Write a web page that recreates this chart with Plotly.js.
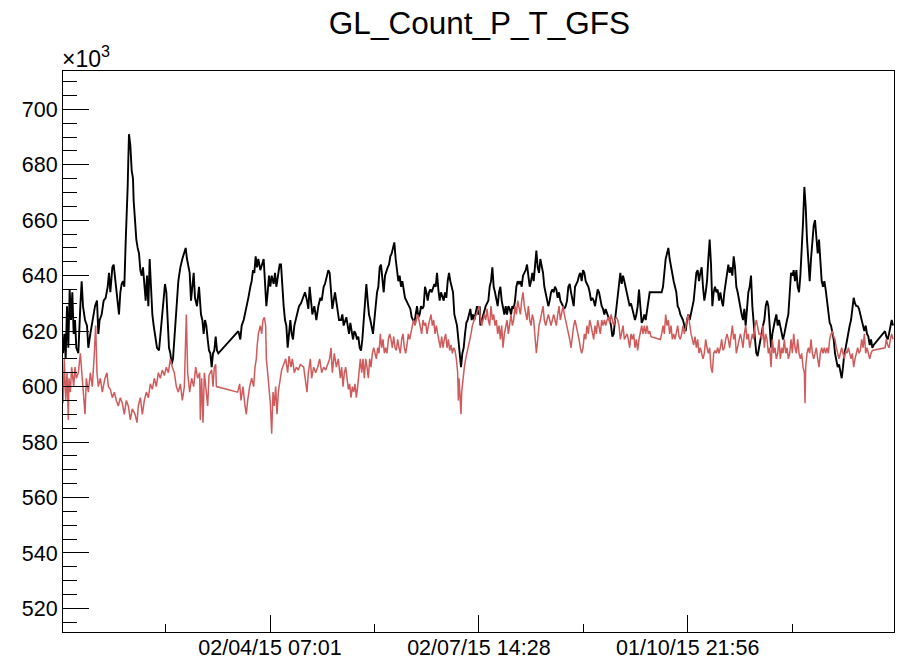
<!DOCTYPE html>
<html><head><meta charset="utf-8">
<script src="https://cdn.plot.ly/plotly-3.0.1.min.js"></script>
<style>html,body{margin:0;padding:0;background:#fff}</style>
</head><body><div id="chart" style="width:897px;height:659px"></div>
<script>
// Day offsets (days since 2015-01-01 19:00 UTC) and counts in units of 10^3
const blackDay = [
0.0,0.58,1.17,1.75,2.33,2.91,3.50,4.08,4.66,5.24,5.83,6.70,7.58,8.16,8.74,9.62,10.49,11.07,11.95,12.82,13.99,14.86,15.45,16.03,16.90,17.78,18.65,19.53,20.11,20.69,21.57,22.15,22.73,23.32,23.90,24.48,25.07,25.65,26.23,26.81,27.40,27.98,28.27,28.56,28.85,29.44,30.02,30.60,30.89,31.48,32.06,32.64,33.23,33.81,34.39,34.97,35.56,36.14,36.72,37.31,37.89,38.47,39.06,39.64,40.22,41.09,41.97,42.55,43.14,44.01,44.59,45.18,45.76,46.34,46.93,47.51,48.09,48.97,49.84,50.42,51.30,52.17,53.05,53.63,54.21,54.79,55.38,55.96,56.54,57.13,57.71,58.58,59.46,
60.33,60.92,61.50,62.08,62.66,63.25,63.83,64.41,65.00,65.58,66.16,66.75,67.33,67.91,76.65,77.53,78.11,78.99,79.57,80.44,81.03,81.90,82.48,83.07,83.65,84.23,84.82,85.40,86.27,87.73,88.31,88.90,89.48,90.06,90.64,91.23,92.10,92.69,93.27,94.14,94.73,95.31,95.89,96.47,97.06,97.64,98.22,98.81,99.39,99.97,100.55,101.14,101.72,102.30,103.18,104.05,104.93,105.80,106.68,107.26,107.84,108.42,109.01,109.88,110.76,111.63,112.50,113.09,113.96,114.54,115.42,116.00,116.58,117.17,117.75,118.33,118.92,119.79,120.67,
121.54,122.13,122.71,123.29,123.87,124.46,125.04,125.62,126.21,126.79,127.37,127.96,128.54,129.12,129.70,130.29,130.87,131.45,132.04,132.62,133.20,133.78,134.37,134.95,135.53,136.12,136.70,137.28,137.86,138.45,139.03,139.61,140.20,140.78,141.36,141.95,142.53,143.11,143.69,144.28,144.86,145.44,146.03,146.61,147.19,147.77,148.36,148.94,149.52,150.11,150.69,151.27,151.85,152.44,153.02,153.60,154.19,154.77,155.35,155.93,156.52,157.10,157.68,158.27,158.85,159.43,160.02,160.60,161.18,161.76,162.35,162.93,163.51,164.10,164.68,165.26,165.84,166.43,167.01,167.59,168.18,168.76,169.34,169.93,170.51,171.09,171.67,172.26,172.84,173.42,174.01,174.59,175.17,175.75,176.34,176.92,177.50,178.09,178.67,179.25,179.83,180.42,181.00,181.58,182.17,
182.46,183.04,183.63,184.21,184.79,185.38,185.96,186.54,187.12,187.71,188.29,188.87,189.46,190.04,190.62,191.21,191.79,192.37,192.95,193.54,194.12,194.70,195.29,195.87,196.45,197.03,197.62,198.20,198.78,199.37,199.95,200.53,201.11,201.70,202.28,202.86,203.45,204.03,204.61,205.19,205.78,206.36,206.94,207.53,208.11,208.69,209.28,209.86,210.44,211.02,211.61,212.19,212.77,213.36,213.94,214.52,215.10,215.69,216.27,216.85,217.44,218.02,218.60,219.18,219.77,220.35,220.93,221.52,222.10,222.68,223.27,223.85,224.43,225.01,225.60,226.18,226.76,227.35,227.93,228.51,229.09,229.68,230.26,230.84,231.43,232.01,232.59,233.17,233.76,234.34,234.92,235.51,236.09,236.67,237.25,237.84,238.42,239.00,239.59,240.17,240.75,241.34,241.92,242.50,243.08,
243.66,244.24,244.83,245.41,245.99,246.58,247.16,247.74,248.33,248.91,249.49,250.07,250.66,251.24,251.82,252.41,252.99,253.57,254.15,254.74,255.32,255.90,256.49,257.07,
261.73,262.31,262.90,263.48,264.06,264.65,265.23,265.81,266.40,266.98,267.56,268.14,268.73,269.31,269.89,270.48,271.06,271.64,272.22,272.81,273.39,273.97,274.56,275.14,275.72,276.30,276.89,277.47,278.05,278.64,279.22,279.80,280.38,280.97,281.55,282.13,282.72,283.30,283.88,284.46,285.05,285.63,286.21,286.80,287.38,287.96,288.55,289.13,289.71,290.29,290.88,291.46,292.04,292.63,293.21,293.79,294.37,294.96,295.54,296.12,296.71,297.29,297.87,298.45,299.04,299.62,300.20,300.79,301.37,301.95,302.53,303.12,303.70,304.28,
304.87,305.45,306.04,306.62,307.20,307.79,308.37,308.95,309.54,310.12,310.70,311.28,311.87,312.45,313.03,313.62,314.20,314.78,315.36,315.95,316.53,317.11,317.70,318.28,318.86,319.44,320.03,320.61,321.19,321.78,322.36,322.94,323.52,324.11,324.69,325.27,325.86,326.44,327.02,327.61,328.19,328.77,329.35,329.94,330.52,331.10,331.69,332.27,332.85,333.43,334.02,334.60,335.18,335.77,336.35,336.93,337.51,338.10,338.68,339.26,339.85,340.43,341.01,341.59,342.18,342.76,343.34,343.93,344.51,345.09,345.67,346.26,346.84,347.42,348.01,348.59,349.17,349.76,350.34,350.92,351.50,352.09,352.67,353.25,353.84,354.42,
359.38,359.96,360.54,361.12,361.71,362.29,362.87
];
const blackVal = [
612,619,610,629,614,635,624,634,619,624,614,612,629,638,629,624,622,614,619,624,629,631,619,624,626,631,632,636,641,634,643,644,640,636,631,626,634,637,638,636,652,663,672,682,691,687,678,675,667,660,653,650,648,642,640,643,636,631,640,629,646,635,626,622,618,614,613,619,625,634,637,634,624,614,612,608,610,619,631,638,643,646,649,650,646,643,641,631,636,641,632,629,636,
626,624,619,624,622,617,613,612,607,612,613,618,613,612,620,617,622,624,626,629,632,636,638,642,641,647,643,646,642,646,638,629,634,640,636,640,637,641,636,640,644,644,634,629,624,622,614,619,624,619,617,622,624,626,629,630,632,634,631,628,636,631,626,629,624,629,632,631,636,637,640,642,641,634,628,631,634,629,624,
624,626,622,624,625,622,619,623,619,617,620,619,617,618,614,613,617,624,629,637,631,626,624,622,619,624,629,634,636,643,644,638,634,640,642,643,644,647,648,650,652,646,641,638,640,636,638,634,632,631,630,629,628,625,624,623,626,629,625,626,629,628,629,636,634,631,634,635,634,636,637,636,641,635,631,634,632,631,634,632,638,641,638,636,634,626,624,622,617,613,607,612,614,619,623,624,626,628,624,626,624,626,629,626,629,
622,624,626,628,629,630,631,636,638,643,636,634,631,629,634,636,631,628,626,629,626,629,628,626,629,628,631,636,638,637,638,636,640,641,642,644,640,636,638,641,638,643,649,643,641,646,643,641,636,634,631,629,631,634,635,634,636,635,632,634,631,630,629,628,629,631,636,637,634,631,629,636,637,638,640,641,638,642,641,638,637,636,634,631,632,631,629,632,635,634,631,629,628,626,628,626,625,624,622,618,619,624,628,634,637,
641,637,640,638,636,634,631,629,630,628,626,624,626,629,635,629,623,624,626,624,628,631,634,634,
634,636,641,646,648,650,646,643,641,638,636,634,629,628,626,625,624,622,620,624,626,624,626,629,631,636,641,642,638,641,643,636,631,634,638,646,653,644,629,634,636,634,635,631,634,631,629,634,638,641,644,641,643,640,647,643,636,634,631,629,626,624,628,622,629,634,636,640,629,622,617,612,611,614,
617,619,622,624,629,631,629,622,614,619,622,624,626,622,624,622,619,617,619,622,624,626,634,641,640,642,638,642,636,634,640,648,659,672,665,653,643,638,646,653,658,660,653,648,653,646,638,636,638,635,631,626,623,622,619,617,612,610,607,608,605,603,607,612,614,617,619,622,624,629,632,630,629,629,628,626,624,623,620,622,619,618,615,617,614,615,
620,618,617,619,622,624,622
];
const redDay = [
0.0,0.58,1.17,1.75,2.33,2.62,3.21,3.79,4.66,5.24,5.83,6.70,7.58,8.16,9.03,9.62,10.20,11.07,11.95,12.82,13.70,14.28,14.86,15.45,16.32,17.19,18.36,19.23,19.82,20.69,21.57,22.44,23.32,24.19,25.07,25.94,26.81,27.69,28.56,29.44,30.31,31.48,32.35,32.93,33.81,34.68,35.56,36.43,37.31,38.18,39.06,39.93,40.80,41.68,42.55,43.43,44.30,45.18,46.05,46.93,47.80,48.67,49.55,50.42,51.30,52.17,53.05,53.92,54.50,55.38,56.25,57.13,58.00,58.88,59.75,
60.04,60.62,61.21,61.79,62.37,63.25,63.83,64.41,65.00,65.58,66.16,66.75,67.04,76.36,77.24,77.82,78.69,79.57,80.15,80.73,81.61,82.48,83.36,83.94,84.52,84.82,85.40,86.27,86.86,87.44,88.02,88.60,88.90,89.48,90.06,90.64,91.23,91.81,92.39,92.98,93.56,94.14,95.02,95.60,96.47,97.35,98.22,98.81,99.68,100.26,101.14,102.01,102.89,103.76,105.22,105.80,106.68,107.26,108.13,108.71,109.59,110.46,111.34,112.21,113.09,113.96,114.84,115.71,116.58,117.17,117.75,118.62,119.50,120.37,
121.25,121.83,122.42,123.00,123.58,124.17,124.75,125.33,125.91,126.50,127.08,127.66,128.25,128.83,129.41,129.99,130.58,131.16,131.74,132.33,132.91,133.49,134.07,134.66,135.24,135.82,136.41,136.99,137.57,138.15,138.74,139.32,139.90,140.49,141.07,141.65,142.24,142.82,143.40,143.98,144.57,145.15,145.73,146.32,146.90,147.48,148.06,148.65,149.23,149.81,150.40,150.98,151.56,152.15,152.73,153.31,153.89,154.48,155.06,155.64,156.23,156.81,157.39,157.97,158.56,159.14,159.72,160.31,160.89,161.47,162.05,162.64,163.22,163.80,164.39,164.97,165.55,166.14,166.72,167.30,167.88,168.47,169.05,169.63,170.22,170.80,171.38,171.96,172.55,
172.84,173.13,173.71,174.01,174.30,174.88,175.46,176.05,176.63,177.21,177.79,178.38,178.96,179.54,180.13,180.71,181.29,181.88,
182.46,183.04,183.63,184.21,184.79,185.38,185.96,186.54,187.12,187.71,188.29,188.87,189.46,190.04,190.62,191.21,191.79,192.37,192.95,193.54,194.12,194.70,195.29,195.87,196.45,197.03,197.62,198.20,198.78,199.37,199.95,200.53,201.11,201.70,202.28,202.86,203.45,204.03,204.61,205.19,205.78,206.36,206.94,207.53,208.11,208.69,209.28,209.86,210.44,211.02,211.61,212.19,212.77,213.36,213.94,214.52,215.10,215.69,216.27,216.85,217.44,218.02,218.60,219.18,219.77,220.35,220.93,221.52,222.10,222.68,223.27,223.85,224.43,225.01,225.60,226.18,226.76,227.35,227.93,228.51,229.09,229.68,230.26,230.84,231.43,232.01,232.59,233.17,233.76,234.34,234.92,235.51,236.09,236.67,237.25,237.84,238.42,239.00,239.59,240.17,240.75,241.34,241.92,242.50,243.08,
243.66,244.24,244.83,245.41,245.99,246.58,247.16,247.74,248.33,248.91,249.49,250.07,250.66,251.24,251.82,252.41,252.99,253.57,254.15,254.74,255.32,255.90,256.49,257.07,
261.15,261.73,262.31,262.90,263.48,264.06,264.65,265.23,265.81,266.40,266.98,267.56,268.14,268.73,269.31,269.89,270.48,271.06,271.64,272.22,272.81,273.39,273.97,274.56,275.14,275.72,276.30,276.89,277.47,278.05,278.64,279.22,279.80,280.38,280.97,281.55,282.13,282.72,283.30,283.88,284.46,285.05,285.63,286.21,286.80,287.38,287.96,288.55,289.13,289.71,290.29,290.88,291.46,292.04,292.63,293.21,293.79,294.37,294.96,295.54,296.12,296.71,297.29,297.87,298.45,299.04,299.62,300.20,300.79,301.37,301.95,302.53,303.12,303.70,304.28,
304.87,305.45,306.04,306.62,307.20,307.79,308.37,308.95,309.54,310.12,310.70,311.28,311.87,312.45,313.03,313.62,314.20,314.78,315.36,315.95,316.53,317.11,317.70,318.28,318.86,319.44,320.03,320.61,321.19,321.78,322.36,322.94,323.52,324.11,324.40,
324.69,325.27,325.86,326.44,327.02,327.61,328.19,328.77,329.35,329.94,330.52,331.10,331.69,332.27,332.85,333.43,334.02,334.60,335.18,335.77,336.35,336.93,337.51,338.10,338.68,339.26,339.85,340.43,341.01,341.59,342.18,342.76,343.34,343.93,344.51,345.09,345.67,346.26,346.84,347.42,348.01,348.59,349.17,349.76,350.34,350.92,351.50,352.09,352.67,353.25,353.84,
359.38,359.96,360.54,361.12,361.71,362.29,362.87
];
const redVal = [
594,610,595,605,588,603,598,607,600,607,603,605,612,605,598,590,603,598,605,600,612,622,605,600,603,598,603,605,600,599,596,598,595,593,596,594,590,595,593,588,592,590,587,593,596,590,595,598,596,601,599,603,600,605,603,606,604,607,605,610,607,605,600,598,601,595,600,626,605,598,603,600,607,603,605,
588,603,587,605,600,593,604,605,606,600,607,608,600,598,601,595,600,593,590,595,600,603,600,607,610,614,619,622,619,624,625,622,610,605,600,594,583,598,593,600,590,598,603,606,608,610,605,611,607,610,605,607,606,608,607,603,598,605,610,603,607,605,607,610,605,607,606,608,610,614,605,612,607,610,
603,607,600,605,607,603,599,601,596,600,598,601,596,600,605,610,605,610,603,610,607,603,610,607,612,614,612,610,614,612,619,614,617,612,614,612,617,619,617,614,618,614,613,617,614,612,617,619,614,612,615,619,617,620,622,624,622,624,626,624,622,619,624,622,623,619,622,624,626,622,624,619,622,619,617,614,618,614,617,619,614,617,613,615,612,614,613,610,605,
595,603,593,590,598,603,607,610,612,614,617,619,622,624,625,626,628,629,
625,622,624,626,624,628,624,622,629,624,626,622,624,619,622,617,622,614,619,622,624,619,622,626,622,624,629,626,631,629,626,631,634,629,626,624,629,624,622,626,624,619,612,617,622,624,626,629,624,622,624,626,624,622,624,626,624,622,626,629,624,626,629,626,624,622,619,617,614,619,622,624,622,619,617,614,612,614,619,617,622,619,624,622,619,617,622,619,624,622,619,624,622,624,622,624,625,623,626,624,622,624,625,624,622,
617,619,622,617,618,619,617,614,619,617,619,614,617,613,617,619,622,619,622,619,622,619,620,618,
617,619,622,619,626,622,624,619,622,617,619,617,619,622,618,617,619,622,619,622,624,626,622,619,617,615,618,614,617,612,614,612,610,612,617,614,612,614,607,605,612,613,612,614,612,614,617,613,614,617,619,617,614,618,622,617,619,612,614,617,619,617,614,619,622,617,619,614,617,619,617,622,624,622,619,
619,617,622,614,619,617,612,614,607,617,612,614,610,612,617,610,614,612,617,612,614,610,612,617,612,619,614,612,617,612,610,612,607,605,594,
607,612,614,612,617,612,610,612,614,610,607,612,614,612,614,612,614,612,617,619,620,618,617,614,612,610,612,614,612,610,613,612,614,612,610,612,607,610,612,614,612,613,617,614,619,612,614,612,610,612,613,
614,617,615,614,617,619,617
];
const tickLabels = ['02/04/15 07:01','02/07/15 14:28','01/10/15 21:56'];
const tickTimes = ['2015-04-02 07:01','2015-07-02 14:28','2015-10-01 21:56'];
const yTicks = [520,540,560,580,600,620,640,660,680,700];

const T0 = Date.UTC(2015,0,1,19,0);
const DAY = 86400000;
function fmt(ms){ return new Date(ms).toISOString().slice(0,19).replace('T',' '); }
function toMs(s){ return Date.parse(s.replace(' ','T')+':00Z'); }
const bx = blackDay.map(d => fmt(T0 + d*DAY));
const rx = redDay.map(d => fmt(T0 + d*DAY));
const tms = tickTimes.map(toMs);
const half = (tms[1]-tms[0])/2;
const minorVals = [tms[0]-half, tms[0]+half, tms[1]+half, tms[2]+half].map(fmt);

const font = 'Liberation Sans, Arial, Helvetica, sans-serif';
const traces = [
  {x: bx, y: blackVal, type:'scatter', mode:'lines', line:{color:'#000000', width:1.9}, hoverinfo:'skip'},
  {x: rx, y: redVal, type:'scatter', mode:'lines', line:{color:'#cf5b5b', width:1.5}, hoverinfo:'skip'}
];
const layout = {
  width: 897, height: 659,
  margin: {l:63, r:3, t:71, b:27, pad:0},
  paper_bgcolor:'#ffffff', plot_bgcolor:'#ffffff',
  showlegend:false, hovermode:false,
  title: {text:'GL_Count_P_T_GFS', font:{family:font, size:31.5, color:'#000'}, x:0.5345, xanchor:'center', xref:'container', y:1-23/659, yref:'container', yanchor:'middle'},
  xaxis: {
    type:'date', range:[fmt(T0), fmt(T0 + 363.3*DAY)],
    tickmode:'array', tickvals: tickTimes, ticktext: tickLabels,
    ticks:'inside', ticklen:17, tickwidth:1, tickcolor:'#000',
    ticklabelstandoff:-4,
    minor:{tickmode:'array', tickvals:minorVals, ticks:'inside', ticklen:8, tickwidth:1, tickcolor:'#000', showgrid:false},
    showline:true, linecolor:'#000', linewidth:1, mirror:true,
    showgrid:false, zeroline:false,
    tickfont:{family:font, size:21.5, color:'#000'}
  },
  yaxis: {
    range:[511.5, 713.8],
    tickmode:'array', tickvals:yTicks, ticktext: yTicks.map(String),
    ticks:'inside', ticklen:26, tickwidth:1, tickcolor:'#000',
    minor:{tickmode:'linear', tick0:0, dtick:5, ticks:'inside', ticklen:14, tickwidth:1, tickcolor:'#000', showgrid:false},
    showline:true, linecolor:'#000', linewidth:1, mirror:true,
    showgrid:false, zeroline:false,
    tickfont:{family:font, size:21.5, color:'#000'}
  },
  annotations:[{text:'×10<sup>3</sup>', xref:'paper', yref:'paper', x:0, y:1, xanchor:'left', yanchor:'bottom', showarrow:false, font:{family:font, size:23, color:'#000'}, xshift:-3, yshift:-3}]
};
Plotly.newPlot('chart', traces, layout, {staticPlot:true, displayModeBar:false});
</script>
</body></html>
